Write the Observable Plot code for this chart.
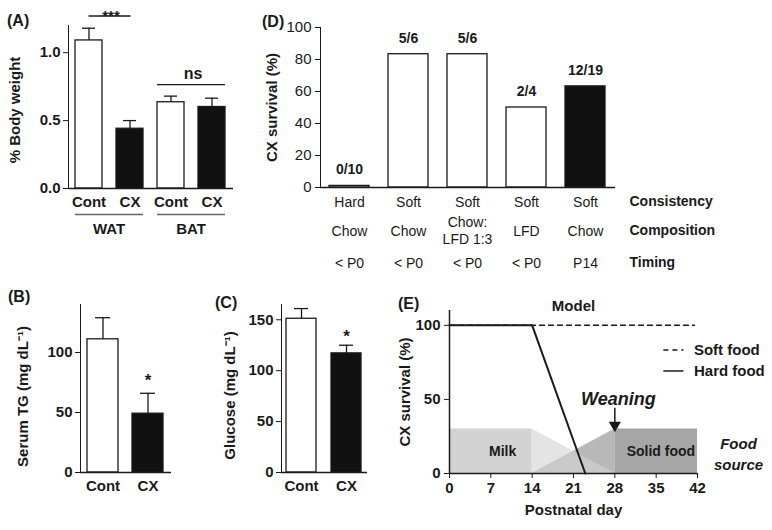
<!DOCTYPE html>
<html><head><meta charset="utf-8">
<script src="https://cdn.jsdelivr.net/npm/d3@7"></script>
<script src="https://cdn.jsdelivr.net/npm/@observablehq/plot@0.6"></script>
<style>
body{margin:0;background:#fff;}
#fig{position:relative;width:772px;height:530px;font-family:"Liberation Sans",Arial,Helvetica,sans-serif;color:#1a1a1a;overflow:hidden;}
.plab{position:absolute;font-weight:bold;font-size:16px;line-height:16px;}
</style></head><body><div id="fig"></div>
<script>
// ---------- DATA ----------
// (A) fat depots
const aCategories = ["WAT Cont", "WAT CX", "BAT Cont", "BAT CX"];
const aValues = [1.09, 0.44, 0.635, 0.60];
const aErrors = [1.18, 0.50, 0.68, 0.665];
const aTissues = ["WAT", "BAT"];
const aSignif = ["***", "ns"];
// (B) serum TG
const bCategories = ["Cont", "CX"];
const bValues = [111, 49];
const bErrors = [129, 66];
const bSignif = ["", "*"];
// (C) glucose
const cCategories = ["Cont", "CX"];
const cValues = [151, 117];
const cErrors = [161, 125];
const cSignif = ["", "*"];
// (D) survival by diet
const dConsistency = ["Hard", "Soft", "Soft", "Soft", "Soft"];
const dComposition = ["Chow", "Chow", "Chow:\nLFD 1:3", "LFD", "Chow"];
const dTiming = ["< P0", "< P0", "< P0", "< P0", "P14"];
const dSurvival = [1, 83.3, 83.3, 50, 63.2];
const dCounts = ["0/10", "5/6", "5/6", "2/4", "12/19"];
const dRowNames = ["Consistency", "Composition", "Timing"];
// (E) model
const eDays = [0, 7, 14, 21, 28, 35, 42];
const eHardDays = [0, 14, 23];
const eHardSurvival = [100, 100, 0];
const eSoftDays = [0, 41.5];
const eSoftSurvival = [100, 100];
const eMilkDays = [0, 14, 28];
const eMilkLevel = [30, 30, 0];
const eSolidDays = [14, 28, 42];
const eSolidLevel = [0, 30, 30];

// ---------- HELPERS ----------
const FONT = '"Liberation Sans", Arial, Helvetica, sans-serif';
const fig = document.getElementById("fig");
function place(node, left, top) {
  node.style.position = "absolute";
  node.style.left = left + "px";
  node.style.top = top + "px";
  fig.appendChild(node);
}
function panelLabel(text, left, top) {
  const d = document.createElement("div");
  d.className = "plab";
  d.textContent = text;
  d.style.left = left + "px";
  d.style.top = top + "px";
  fig.appendChild(d);
}
const baseStyle = (w) => ({fontFamily: FONT, fontSize: "15px", fontWeight: w, color: "#1a1a1a", background: "transparent", overflow: "visible"});
const barFill = (g) => (g === "CX" || g === "P14") ? "#111" : "#fff";
const yTitle = (text, dx, dy = 0, extra = {}) => Plot.text([text], {frameAnchor: "left", textAnchor: "middle", rotate: -90, dx, dy, fontWeight: "bold", ...extra});

// ---------- PANEL A ----------
const aData = aCategories.map((id, i) => ({id, tissue: id.split(" ")[0], group: id.split(" ")[1], value: aValues[i], err: aErrors[i]}));
const aGroupData = aTissues.map((t, i) => ({t, first: t + " Cont", last: t + " CX", sig: aSignif[i]}));
const plotA = Plot.plot({
  width: 260, height: 240, marginLeft: 68, marginRight: 27, marginTop: 25, marginBottom: 52,
  style: baseStyle("bold"),
  x: {type: "band", domain: aCategories, paddingInner: 0.34, paddingOuter: 0.17, axis: null},
  y: {domain: [0, 1.2], ticks: [0, 0.5, 1], tickFormat: ".1f", tickSize: 5, tickPadding: 3, line: true, label: null},
  marks: [
    Plot.ruleX(aData, {x: "id", y1: "value", y2: "err", strokeWidth: 1.3}),
    Plot.tickY(aData, {x: "id", y: "err", inset: 7, strokeWidth: 1.3}),
    Plot.barY(aData, {x: "id", y: "value", fill: (d) => barFill(d.group), stroke: "#1a1a1a", strokeWidth: 1.3}),
    Plot.ruleY([0], {strokeWidth: 1.5}),
    Plot.text(aData, {x: "id", y: 0, text: "group", dy: 14}),
    Plot.ruleY(aGroupData, {x1: "first", x2: "last", y: 0, dy: 26, stroke: "#666", strokeWidth: 1.5}),
    Plot.text(aGroupData, {x: "first", y: 0, text: "t", dx: 20, dy: 41}),
    // significance
    Plot.line([{x: "WAT Cont", y: 1.27}, {x: "WAT CX", y: 1.27}], {x: "x", y: "y", strokeWidth: 1.3}),
    Plot.ruleY([aGroupData[1]], {x1: "first", x2: "last", y: 0.765, strokeWidth: 1.3}),
    Plot.text([aGroupData[0]], {x: "first", y: 1.27, text: "sig", dx: 22, dy: 0}),
    Plot.text([aGroupData[1]], {x: "first", y: 0.765, text: "sig", dx: 22, dy: -11, fontSize: 16}),
    yTitle("% Body weight", -53, 3)
  ]
});
place(plotA, 0, 0);
panelLabel("(A)", 7, 13);

// ---------- PANEL B ----------
const bData = bCategories.map((id, i) => ({id, value: bValues[i], err: bErrors[i], sig: bSignif[i]}));
const plotB = Plot.plot({
  width: 200, height: 260, marginLeft: 80, marginRight: 29, marginTop: 34, marginBottom: 58,
  style: baseStyle("bold"),
  x: {type: "band", domain: bCategories, paddingInner: 0.31, paddingOuter: 0.165, axis: null},
  y: {domain: [0, 140], ticks: [0, 50, 100], tickSize: 5, tickPadding: 3, line: true, label: null},
  marks: [
    Plot.ruleX(bData, {x: "id", y1: "value", y2: "err", strokeWidth: 1.3}),
    Plot.tickY(bData, {x: "id", y: "err", inset: 8, strokeWidth: 1.3}),
    Plot.barY(bData, {x: "id", y: "value", fill: (d) => barFill(d.id), stroke: "#1a1a1a", strokeWidth: 1.3}),
    Plot.ruleY([0], {strokeWidth: 1.5}),
    Plot.text(bData, {x: "id", y: 0, text: "id", dy: 14}),
    Plot.text(bData, {x: "id", y: "err", text: "sig", dy: -13, fontSize: 17}),
    yTitle("Serum TG (mg dL\u207B\u00B9)", -57, 8)
  ]
});
place(plotB, 0, 270);
panelLabel("(B)", 8, 289);

// ---------- PANEL C ----------
const cData = cCategories.map((id, i) => ({id, value: cValues[i], err: cErrors[i], sig: cSignif[i]}));
const plotC = Plot.plot({
  width: 190, height: 260, marginLeft: 81, marginRight: 23, marginTop: 34, marginBottom: 58,
  style: baseStyle("bold"),
  x: {type: "band", domain: cCategories, paddingInner: 0.33, paddingOuter: 0.12, axis: null},
  y: {domain: [0, 165], ticks: [0, 50, 100, 150], tickSize: 5, tickPadding: 3, line: true, label: null},
  marks: [
    Plot.ruleX(cData, {x: "id", y1: "value", y2: "err", strokeWidth: 1.3}),
    Plot.tickY(cData, {x: "id", y: "err", inset: 8, strokeWidth: 1.3}),
    Plot.barY(cData, {x: "id", y: "value", fill: (d) => barFill(d.id), stroke: "#1a1a1a", strokeWidth: 1.3}),
    Plot.ruleY([0], {strokeWidth: 1.5}),
    Plot.text(cData, {x: "id", y: 0, text: "id", dy: 14}),
    Plot.text(cData, {x: "id", y: "err", text: "sig", dy: -9, fontSize: 17}),
    yTitle("Glucose (mg dL\u207B\u00B9)", -51, 7)
  ]
});
place(plotC, 200, 270);
panelLabel("(C)", 215, 295);

// ---------- PANEL D ----------
const dData = dSurvival.map((v, i) => ({id: "g" + i, value: v, count: dCounts[i], consistency: dConsistency[i], composition: dComposition[i], timing: dTiming[i]}));
const dRowDy = [14, 43, 75];
const dRowKeys = ["consistency", "composition", "timing"];
const plotD = Plot.plot({
  width: 512, height: 280, marginLeft: 60, marginRight: 157, marginTop: 27, marginBottom: 93,
  style: baseStyle("normal"),
  x: {type: "band", domain: dData.map((d) => d.id), paddingInner: 0.32, paddingOuter: 0.15, axis: null},
  y: {domain: [0, 100], ticks: [0, 20, 40, 60, 80, 100], tickSize: 5, tickPadding: 4, line: true, label: null},
  marks: [
    Plot.barY(dData, {x: "id", y: "value", fill: (d) => barFill(d.timing), stroke: "#1a1a1a", strokeWidth: 1.3}),
    Plot.ruleY([0], {strokeWidth: 1.5}),
    Plot.text(dData, {x: "id", y: "value", text: "count", dy: -16, fontWeight: "bold", fontSize: 14}),
    ...dRowKeys.map((k, r) => Plot.text(dData, {x: "id", y: 0, text: k, dy: dRowDy[r], fontSize: 14, lineHeight: 1.2})),
    ...dRowNames.map((name, r) => Plot.text([name], {frameAnchor: "right", y: [0], textAnchor: "start", dx: 14, dy: dRowDy[r], fontWeight: "bold", fontSize: 14})),
    yTitle("CX survival (%)", -48)
  ]
});
place(plotD, 260, 0);
panelLabel("(D)", 262, 14);

// ---------- PANEL E ----------
const segs = (xs, ys, name) => xs.slice(1).flatMap((x, i) => {
  const part = ys[i] === ys[i + 1] ? "flat" : "taper";
  return [{src: name, part, key: name + i, x: xs[i], y: ys[i]}, {src: name, part, key: name + i, x, y: ys[i + 1]}];
});
const eAreas = [...segs(eMilkDays, eMilkLevel, "milk"), ...segs(eSolidDays, eSolidLevel, "solid")];
const areaFill = (d) => d.src === "milk" ? "#d3d3d3" : "#a6a6a6";
const eHard = eHardDays.map((x, i) => ({x, y: eHardSurvival[i]}));
const eSoft = eSoftDays.map((x, i) => ({x, y: eSoftSurvival[i]}));
const plotE = Plot.plot({
  width: 382, height: 260, marginLeft: 59, marginRight: 75, marginTop: 40, marginBottom: 57,
  style: baseStyle("bold"),
  x: {domain: [0, 42], ticks: eDays, tickSize: 5, tickPadding: 4, label: null},
  y: {domain: [0, 110], ticks: [0, 50, 100], tickSize: 5, tickPadding: 4, label: null},
  marks: [
    Plot.areaY(eAreas.filter((d) => d.part === "flat"), {x: "x", y: "y", z: "key", fill: areaFill}),
    Plot.areaY(eAreas.filter((d) => d.part === "taper" && d.src === "solid"), {x: "x", y: "y", z: "key", fill: areaFill, fillOpacity: 0.8}),
    Plot.areaY(eAreas.filter((d) => d.part === "taper" && d.src === "milk"), {x: "x", y: "y", z: "key", fill: areaFill, fillOpacity: 0.62}),
    Plot.ruleX([0], {strokeWidth: 1.5}),
    Plot.ruleY([0], {strokeWidth: 1.5}),
    Plot.line(eSoft, {x: "x", y: "y", strokeWidth: 1.5, strokeDasharray: "5,4"}),
    Plot.line(eHard, {x: "x", y: "y", strokeWidth: 2}),
    Plot.text([{x: 9, y: 15, t: "Milk"}, {x: 35.8, y: 15, t: "Solid food"}], {x: "x", y: "y", text: "t", fontSize: 14}),
    Plot.text(["Food\nsource"], {frameAnchor: "right", textAnchor: "middle", y: [14], dx: 41, fontStyle: "italic", fontSize: 15, lineHeight: 1.4}),
    Plot.text([{x: 28.6, y: 50.3, t: "Weaning"}], {x: "x", y: "y", text: "t", fontStyle: "italic", fontSize: 18}),
    Plot.ruleX([{x: 28, y1: 44, y2: 33}], {x: "x", y1: "y1", y2: "y2", strokeWidth: 1.5}),
    Plot.dot([{x: 28, y: 32.5}], {x: "x", y: "y", symbol: "triangle", rotate: 180, r: 4.5, fill: "#1a1a1a", stroke: null}),
    Plot.text([{x: 21, y: 113, t: "Model"}], {x: "x", y: "y", text: "t"}),
    // legend
    Plot.ruleY([{x1: 36.3, x2: 39.7, y: 83.3}], {x1: "x1", x2: "x2", y: "y", strokeWidth: 1.5, strokeDasharray: "5,4"}),
    Plot.ruleY([{x1: 36.3, x2: 39.7, y: 69.2}], {x1: "x1", x2: "x2", y: "y", strokeWidth: 1.5}),
    Plot.text([{x: 41.4, y: 83.3, t: "Soft food"}, {x: 41.4, y: 69.2, t: "Hard food"}], {x: "x", y: "y", text: "t", textAnchor: "start"}),
    Plot.text(["Postnatal day"], {frameAnchor: "bottom", dy: 41}),
    yTitle("CX survival (%)", -44)
  ]
});
place(plotE, 390, 270);
panelLabel("(E)", 398, 296);
</script></body></html>
